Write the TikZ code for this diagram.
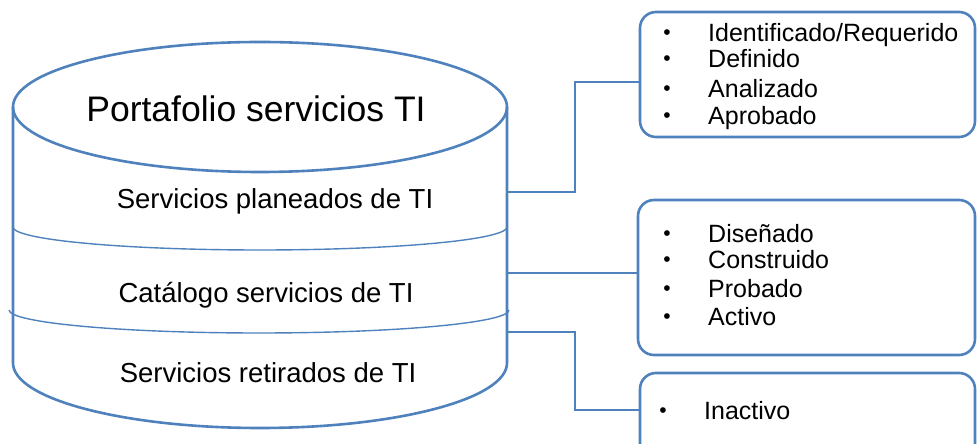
\documentclass[tikz,border=0pt]{standalone}
\usepackage{fontspec}
\setmainfont{Liberation Sans}
\usetikzlibrary{positioning}
\definecolor{azul}{RGB}{79,129,189}
\newcommand{\Titulo}[1]{{\fontsize{35.5}{38}\selectfont #1}}
\newcommand{\Capa}[1]{{\fontsize{27.5}{30}\selectfont #1}}
\newcommand{\Estado}[1]{{\fontsize{25}{28}\selectfont #1}}

\begin{document}
\begin{tikzpicture}[x=1pt, y=1pt,
    borde/.style={draw=azul, line width=2.6pt},
    division/.style={draw=azul, line width=1.4pt},
    conector/.style={draw=azul, line width=2pt},
    caja/.style={draw=azul, line width=2.6pt, rounded corners=16pt, inner sep=0pt},
    punto/.style={anchor=base, inner sep=0pt, font=\fontsize{21}{21}\selectfont},
    item/.style={anchor=base west, inner sep=0pt}]

    \useasboundingbox (0,0) rectangle (977,444);

    % cilindro
    \draw[borde] (260,337) ellipse [x radius=247, y radius=65];
    \draw[borde] (13,337) -- (13,81) arc[start angle=180, end angle=360, x radius=247, y radius=65] -- (507,337);
    \draw[division] (13,217) arc[start angle=180, end angle=360, x radius=247, y radius=23];
    \draw[division] (9,134) arc[start angle=180, end angle=360, x radius=250, y radius=23];

    \draw(256,322) node[anchor=base] (titulo) {\Titulo{Portafolio servicios TI}};
    \draw(275,235) node[anchor=base] (planeados) {\Capa{Servicios planeados de TI}};
    \draw(266,141) node[anchor=base] (catalogo) {\Capa{Catálogo servicios de TI}};
    \draw(268,61) node[anchor=base] (retirados) {\Capa{Servicios retirados de TI}};

    \coordinate (p1) at (507,252);
    \coordinate (p2) at (507,171);
    \coordinate (p3) at (507,112);

    % cajas de estados
    \draw(807.5,369.5) node[caja, minimum width=335pt, minimum height=125pt] (caja1) {};
    \draw(806.5,166.5) node[caja, minimum width=337pt, minimum height=155pt] (caja2) {};
    \draw(807.5,17.5) node[caja, minimum width=335pt, minimum height=107pt] (caja3) {};

    \draw(667,404) node[punto] (b11) {•};
    \draw(667,378) node[punto] (b12) {•};
    \draw(667,348) node[punto] (b13) {•};
    \draw(667,321) node[punto] (b14) {•};
    \draw(708,402) node[item] (e11) {\Estado{Identificado/Requerido}};
    \draw(708,376) node[item] (e12) {\Estado{Definido}};
    \draw(708,346) node[item] (e13) {\Estado{Analizado}};
    \draw(708,319) node[item] (e14) {\Estado{Aprobado}};

    \draw(667,203) node[punto] (b21) {•};
    \draw(667,177) node[punto] (b22) {•};
    \draw(667,148) node[punto] (b23) {•};
    \draw(667,120) node[punto] (b24) {•};
    \draw(708,201) node[item] (e21) {\Estado{Diseñado}};
    \draw(708,175) node[item] (e22) {\Estado{Construido}};
    \draw(708,146) node[item] (e23) {\Estado{Probado}};
    \draw(708,118) node[item] (e24) {\Estado{Activo}};

    \draw(663,26) node[punto] (b31) {•};
    \draw(704,24) node[item] (e31) {\Estado{Inactivo}};

    \draw[conector] (p1) -- ++(68,0) |- ([yshift=-7.5pt]caja1.west);
    \draw[conector] (p2) -- ([yshift=4.5pt]caja2.west);
    \draw[conector] (p3) -- ++(68,0) |- ([yshift=16.5pt]caja3.west);

    \end{tikzpicture}
\end{document}
